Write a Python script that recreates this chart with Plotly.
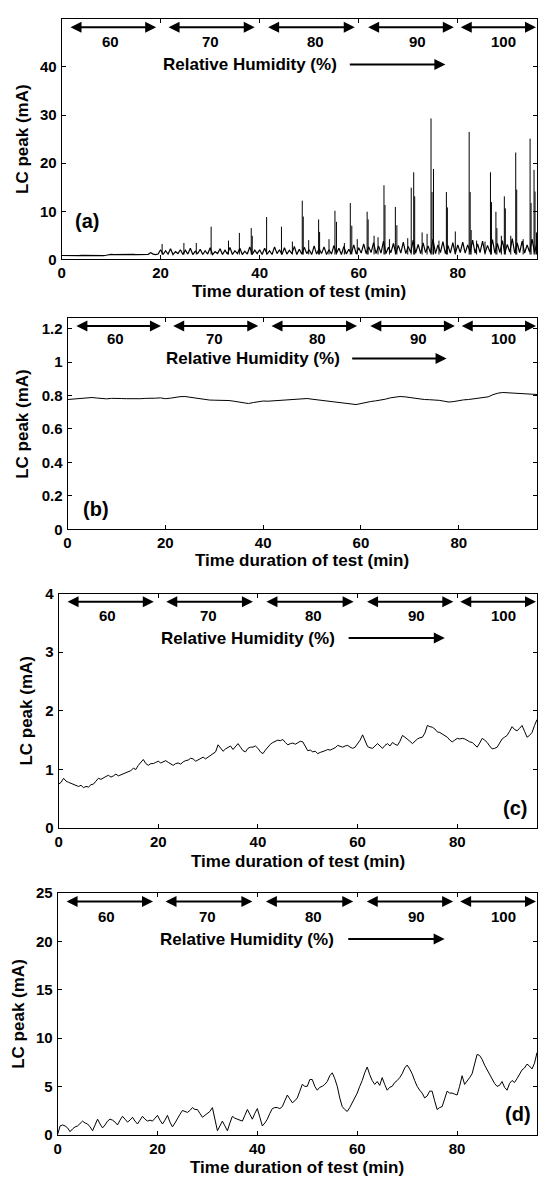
import numpy as np
import plotly.graph_objects as go

FONT = "Liberation Sans"
W, H = 539, 1186

# ---------------- data ----------------
# sampling grids (minutes)
t_half = np.arange(0, 96.5, 0.5)
t_min = np.arange(0, 97, 1)

# (a) leakage current peak: baseline band + discharge spikes
a_base = [0.8, 0.78, 0.82, 0.8, 0.79, 0.81, 0.8, 0.78, 0.82, 0.8, 0.79, 0.81, 0.8, 0.8, 0.78, 0.82, 0.8, 0.79, 0.85,
          1.0, 1.02, 0.98, 1.0, 1.03, 0.99, 1.0, 1.02, 0.98, 1.0, 1.03, 0.99, 1.0, 1.02, 0.98, 1.0, 1.05, 1.4, 1.1, 1.0, 1.1,
          2.0, 1.0, 1.8, 1.1, 2.2, 1.0, 1.6, 1.2, 2.0, 1.0, 1.9, 1.1, 2.3, 1.0, 1.7, 1.2, 2.1, 1.0, 1.8, 1.1, 2.4, 1.0, 1.6, 1.2,
          2.2, 1.0, 1.9, 1.1, 2.5, 1.0, 1.8, 1.2, 2.3, 1.0, 1.7, 1.1, 2.6, 1.0, 1.9, 1.2, 2.0,
          1.0, 2.3, 1.1, 1.8, 1.0, 2.6, 1.2, 2.0, 1.0, 2.4, 1.1, 1.9, 1.2, 2.7, 1.0, 2.1, 1.1, 2.5, 1.2, 2.0, 1.0, 2.8, 1.1, 2.2,
          1.2, 2.6, 1.0, 2.0, 1.1, 2.9, 1.2, 2.3, 1.0, 2.7, 1.1, 2.1, 1.2, 3.0, 1.1, 2.4,
          1.3, 3.2, 1.2, 2.6, 1.4, 3.5, 1.2, 2.8, 1.3, 3.8, 1.2, 2.5, 1.4, 3.3, 1.2, 2.9, 1.3, 3.6, 1.2, 2.7, 1.4, 4.0, 1.3, 3.1,
          1.2, 3.4, 1.4, 2.8, 1.3, 4.2, 1.2, 3.0, 1.4, 3.7, 1.2, 2.9, 1.3, 3.5, 1.2, 3.0,
          1.4, 3.6, 1.3, 3.0, 1.5, 4.0, 1.3, 3.2, 1.4, 3.8, 1.3, 2.9, 1.5, 4.1, 1.3, 3.3, 1.4, 3.9, 1.3, 3.1, 1.5, 4.3, 1.3, 3.4,
          1.4, 3.8, 1.3, 3.0, 1.5, 4.2, 1.4, 3.6]
spike_t = [20.3, 24.7, 27.2, 30.2, 33.7, 35.9, 38.3, 38.5, 41.4, 44.4, 46.6, 48.6, 48.8, 49.9, 51.9, 52.1, 54.0, 55.2,
           55.5, 57.1, 58.3, 58.6, 59.7, 61.7, 61.9, 63.1, 63.9, 65.1, 65.3, 66.2, 67.4, 67.7, 69.9, 70.6, 71.1, 71.3,
           72.8, 73.8, 74.6, 74.8, 75.1, 76.2, 77.7, 77.9, 79.5, 82.3, 82.5, 82.7, 83.8, 85.5, 86.6, 86.8, 87.7, 87.9,
           88.8, 89.4, 89.6, 90.7, 91.7, 91.9, 93.2, 94.6, 94.8, 95.4, 95.6, 95.9]
spike_v = [3.2, 3.4, 3.4, 6.8, 3.9, 5.5, 6.5, 4.9, 8.8, 6.8, 3.7, 12.2, 8.9, 4.0, 8.3, 5.7, 4.2, 10.1,
           7.8, 3.4, 11.7, 7.0, 4.2, 9.9, 8.3, 4.9, 4.6, 15.4, 11.3, 4.2, 10.9, 7.1, 4.4, 14.9, 18.1, 13.1,
           5.6, 5.3, 29.3, 14.0, 18.8, 3.9, 14.0, 10.8, 5.8, 26.5, 14.0, 6.1, 3.9, 3.7, 18.1, 11.9, 9.9, 6.5,
           4.9, 13.1, 10.6, 4.9, 22.2, 14.5, 4.2, 25.1, 11.7, 18.6, 14.1, 5.6]

# (b)
b_vals = [0.776, 0.778, 0.780, 0.781, 0.786, 0.788, 0.785, 0.781, 0.780, 0.783, 0.784, 0.782, 0.781, 0.780, 0.779,
          0.781, 0.783, 0.782, 0.784, 0.786, 0.781, 0.784, 0.790, 0.793, 0.794, 0.790, 0.784, 0.778, 0.775, 0.773,
          0.772, 0.772, 0.771, 0.770, 0.766, 0.760, 0.755, 0.752, 0.758, 0.764, 0.767, 0.766, 0.768, 0.767, 0.769,
          0.772, 0.775, 0.778, 0.781, 0.782, 0.778, 0.774, 0.771, 0.768, 0.764, 0.761, 0.758, 0.752, 0.748, 0.746,
          0.752, 0.759, 0.764, 0.768, 0.771, 0.778, 0.786, 0.791, 0.794, 0.792, 0.788, 0.783, 0.778, 0.776, 0.775,
          0.774, 0.771, 0.766, 0.761, 0.764, 0.770, 0.774, 0.776, 0.780, 0.782, 0.786, 0.792, 0.805, 0.814, 0.818,
          0.816, 0.812, 0.810, 0.809, 0.808, 0.807, 0.806]

# (c)
c_vals = [0.75, 0.78, 0.85, 0.80, 0.78, 0.76, 0.74, 0.72, 0.71, 0.73, 0.69, 0.71, 0.70, 0.74, 0.75, 0.80, 0.85, 0.83,
          0.86, 0.88, 0.90, 0.87, 0.89, 0.92, 0.89, 0.91, 0.93, 0.95, 0.96, 0.98, 1.02, 1.00, 1.07, 1.12, 1.17, 1.10,
          1.07, 1.10, 1.10, 1.12, 1.14, 1.11, 1.13, 1.15, 1.12, 1.09, 1.07, 1.10, 1.11, 1.09, 1.13, 1.15, 1.16, 1.19,
          1.18, 1.14, 1.16, 1.19, 1.21, 1.18, 1.21, 1.23, 1.27, 1.30, 1.42, 1.36, 1.31, 1.35, 1.38, 1.40, 1.34, 1.39,
          1.44, 1.38, 1.32, 1.30, 1.36, 1.38, 1.38, 1.40, 1.36, 1.30, 1.27, 1.33, 1.38, 1.43, 1.46, 1.48, 1.50, 1.49,
          1.51, 1.46, 1.42, 1.44, 1.45, 1.43, 1.46, 1.48, 1.47, 1.40, 1.32, 1.33, 1.30, 1.31, 1.27, 1.29, 1.30, 1.32,
          1.34, 1.33, 1.35, 1.37, 1.41, 1.39, 1.38, 1.40, 1.41, 1.38, 1.36, 1.38, 1.44, 1.50, 1.59, 1.48, 1.39, 1.37,
          1.36, 1.40, 1.44, 1.40, 1.36, 1.41, 1.44, 1.40, 1.46, 1.43, 1.41, 1.48, 1.58, 1.55, 1.52, 1.48, 1.44, 1.48,
          1.52, 1.54, 1.55, 1.62, 1.75, 1.73, 1.72, 1.69, 1.64, 1.63, 1.60, 1.58, 1.55, 1.50, 1.47, 1.50, 1.53, 1.52,
          1.53, 1.52, 1.49, 1.47, 1.46, 1.42, 1.38, 1.45, 1.53, 1.50, 1.46, 1.40, 1.35, 1.36, 1.38, 1.45, 1.52, 1.55,
          1.58, 1.65, 1.73, 1.68, 1.66, 1.70, 1.75, 1.65, 1.55, 1.58, 1.63, 1.75, 1.85]

# (d)
d_vals = [0.0, 0.9, 1.0, 0.9, 0.7, 0.3, 0.6, 0.8, 0.9, 1.2, 1.4, 1.2, 1.1, 0.8, 0.4, 1.0, 1.6, 1.1, 0.7, 1.0,
          1.4, 1.6, 1.5, 1.3, 1.0, 1.5, 1.9, 1.6, 1.3, 1.5, 1.8, 1.4, 1.1, 1.5, 1.9, 1.6, 1.4, 1.5, 1.4, 1.7,
          2.0, 1.5, 1.1, 1.5, 2.0, 1.3, 0.8, 1.2, 1.7, 2.1, 2.5, 2.4, 2.3, 2.5, 2.8, 2.6, 2.6, 2.2, 1.8, 2.0,
          2.2, 2.4, 2.8, 1.5, 0.4, 0.9, 1.4, 0.9, 0.4, 1.2, 1.9, 1.7, 1.6, 1.5, 1.4, 2.0, 2.6, 2.1, 1.6, 2.2,
          2.7, 1.8, 0.9, 1.2, 1.6, 2.2, 2.7, 2.8, 2.8, 2.7, 2.9, 3.5, 4.1, 3.7, 3.3, 3.5, 3.8, 4.5, 5.2, 5.0,
          5.0, 5.7, 5.7, 5.0, 4.6, 4.9, 5.0, 5.2, 5.5, 6.1, 6.4, 5.8, 5.0, 3.8, 2.9, 2.6, 2.4, 2.8, 3.3, 3.9,
          4.3, 5.0, 5.6, 6.4, 7.0, 6.2, 5.6, 5.2, 5.5, 5.1, 5.9, 5.2, 4.6, 4.9, 5.0, 5.4, 5.6, 5.9, 6.3, 6.9,
          7.2, 6.8, 6.3, 5.6, 5.0, 4.6, 4.3, 3.8, 4.0, 4.5, 4.5, 3.5, 2.6, 2.8, 2.9, 3.7, 4.5, 4.3, 4.3, 4.2,
          4.1, 5.0, 6.1, 5.2, 5.5, 5.9, 6.3, 7.2, 8.3, 8.2, 7.8, 7.2, 6.7, 6.3, 5.8, 5.3, 5.0, 5.1, 5.5, 4.9,
          4.6, 5.3, 5.6, 5.4, 5.8, 6.3, 6.7, 6.9, 7.3, 7.1, 6.8, 7.4, 8.5]

# relative humidity stages
rh_levels = ["60", "70", "80", "90", "100"]
x_ticks = [0, 20, 40, 60, 80]

# ---------------- figure ----------------
fig = go.Figure()

RIGHT = 537
panels = [
    dict(left=58, top=10, bottom=254, ymax=50, yticks=[0, 10, 20, 30, 40], ytext=["0", "10", "20", "30", "40"],
         label="(a)", lx=5.1, ly=8.0, ytitle_x=18),
    dict(left=64, top=314, bottom=528, ymax=1.26, yticks=[0, 0.2, 0.4, 0.6, 0.8, 1.0, 1.2],
         ytext=["0", "0.2", "0.4", "0.6", "0.8", "1", "1.2"], label="(b)", lx=5.9, ly=0.12, ytitle_x=19),
    dict(left=55, top=593, bottom=831, ymax=4, yticks=[0, 1, 2, 3, 4], ytext=["0", "1", "2", "3", "4"],
         label="(c)", lx=91.5, ly=0.35, ytitle_x=23),
    dict(left=54, top=897, bottom=1142, ymax=25, yticks=[0, 5, 10, 15, 20, 25],
         ytext=["0", "5", "10", "15", "20", "25"], label="(d)", lx=92.1, ly=2.1, ytitle_x=15),
]
xtitle_y = [287, 560, 865, 1175]

LINE = dict(color="black", width=1)

fig.add_trace(go.Scatter(x=t_half, y=a_base, mode="lines", line=dict(color="black", width=1.2),
                         xaxis="x", yaxis="y", showlegend=False))
sx, sy = [], []
for t, v in zip(spike_t, spike_v):
    sx += [t, t, None]
    sy += [1.0, v, None]
fig.add_trace(go.Scatter(x=sx, y=sy, mode="lines", line=LINE, xaxis="x", yaxis="y", showlegend=False))
fig.add_trace(go.Scatter(x=t_min, y=b_vals, mode="lines", line=LINE, xaxis="x2", yaxis="y2", showlegend=False))
fig.add_trace(go.Scatter(x=t_half, y=c_vals, mode="lines", line=LINE, xaxis="x3", yaxis="y3", showlegend=False))
fig.add_trace(go.Scatter(x=t_half, y=d_vals, mode="lines", line=LINE, xaxis="x4", yaxis="y4", showlegend=False))

tickfont = dict(family=FONT, size=15, color="black", weight="bold")
layout = {}
annotations = []

arrow_start = [1.5, 21.3, 41.4, 61.6, 80.3]
arrow_end = [19.1, 39.0, 59.2, 79.2, 95.8]
label_x = [9.8, 30.1, 51.2, 71.8, 89.2]

for i, p in enumerate(panels):
    n = "" if i == 0 else str(i + 1)
    xa, ya = "x" + n, "y" + n
    common = dict(showline=True, linecolor="black", linewidth=1, mirror="ticks", ticks="inside",
                  ticklen=4, tickcolor="black", showgrid=False, zeroline=False, tickfont=tickfont)
    layout["xaxis" + n] = dict(common, domain=[p["left"] / W, RIGHT / W], range=[0, 96], anchor=ya,
                               tickvals=x_ticks, ticktext=[str(v) for v in x_ticks], ticklabelstandoff=0)
    layout["yaxis" + n] = dict(common, domain=[1 - p["bottom"] / H, 1 - p["top"] / H], range=[0, p["ymax"]],
                               anchor=xa, tickvals=p["yticks"], ticktext=p["ytext"], ticklabelstandoff=1)
    ym = p["ymax"]
    for k, lev in enumerate(rh_levels):
        annotations.append(dict(xref=xa, yref=ya, axref=xa, ayref=ya, x=arrow_end[k], y=0.965 * ym,
                                ax=arrow_start[k], ay=0.965 * ym, text="", showarrow=True,
                                arrowside="end+start", arrowhead=2, startarrowhead=2, arrowsize=1.1,
                                startarrowsize=1.1, arrowwidth=2, arrowcolor="black", standoff=0, startstandoff=0))
        annotations.append(dict(xref=xa, yref=ya, x=label_x[k], y=0.905 * ym, text=lev, showarrow=False,
                                font=dict(family=FONT, size=15, color="black", weight="bold"),
                                xanchor="center", yanchor="middle"))
    annotations.append(dict(xref=xa, yref=ya, x=38.0, y=0.81 * ym, text="Relative Humidity (%)",
                            showarrow=False, font=dict(family=FONT, size=17, color="black", weight="bold"),
                            xanchor="center", yanchor="middle"))
    annotations.append(dict(xref=xa, yref=ya, axref=xa, ayref=ya, x=77.5, y=0.81 * ym, ax=57.9, ay=0.81 * ym,
                            text="", showarrow=True, arrowhead=2, arrowsize=1.1, arrowwidth=2,
                            arrowcolor="black", standoff=0))
    annotations.append(dict(xref=xa, yref=ya, x=p["lx"], y=p["ly"], text=p["label"], showarrow=False,
                            font=dict(family=FONT, size=20, color="black", weight="bold"),
                            xanchor="center", yanchor="middle"))
    annotations.append(dict(xref="paper", yref="paper", x=(p["left"] + RIGHT) / 2 / W, y=1 - xtitle_y[i] / H,
                            text="Time duration of test (min)", showarrow=False,
                            font=dict(family=FONT, size=17, color="black", weight="bold"),
                            xanchor="center", yanchor="middle"))
    annotations.append(dict(xref="paper", yref="paper", x=p["ytitle_x"] / W,
                            y=1 - (p["top"] + p["bottom"]) / 2 / H, text="LC peak (mA)", textangle=-90,
                            showarrow=False, font=dict(family=FONT, size=17, color="black", weight="bold"),
                            xanchor="center", yanchor="middle"))

fig.update_layout(**layout)
fig.update_layout(width=W, height=H, margin=dict(l=0, r=0, t=0, b=0), paper_bgcolor="white",
                  plot_bgcolor="white", annotations=annotations, showlegend=False,
                  font=dict(family=FONT, color="black"))
fig.write_html("out.html", config={"displayModeBar": False},
               post_script="document.body.style.margin='0';document.body.style.overflow='hidden';")
